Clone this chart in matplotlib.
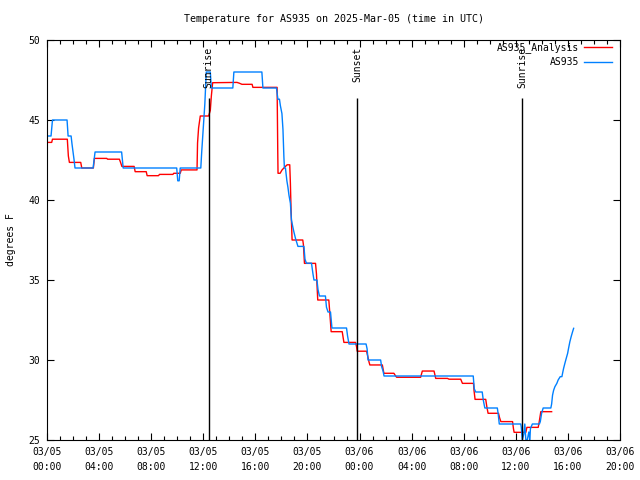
import matplotlib
matplotlib.use("Agg")
import matplotlib.pyplot as plt
import numpy as np

# hours since 03/05 00:00 UTC
obs_hours = [0.0, 0.31, 0.42, 1.54, 1.62, 1.85, 1.92, 2.08, 2.15, 3.54, 3.69, 5.73, 5.85,
             9.96, 10.04, 10.15, 10.23, 11.81, 11.88, 12.0, 12.12, 12.23, 12.54, 12.62,
             14.27, 14.35, 16.5, 16.58, 17.62, 17.73, 17.85, 17.92, 18.04, 18.12, 18.19,
             18.23, 18.31, 18.42, 18.5, 18.58, 18.69, 18.77, 18.88, 18.96, 19.08, 19.27,
             19.73, 19.81, 19.92, 20.31, 20.42, 20.5, 20.73, 20.81, 20.92, 21.38, 21.46,
             21.58, 21.77, 21.88, 23.0, 23.08, 23.19, 24.5, 24.58, 24.65, 25.62, 25.69,
             25.81, 25.88, 32.73, 32.81, 32.92, 33.42, 33.5, 33.62, 34.58, 34.65, 34.73,
             36.38, 36.42, 36.5, 36.62, 36.69, 36.77, 36.88, 37.0, 37.08, 37.12, 37.27,
             37.81, 37.88, 37.98, 38.1, 38.69, 38.75, 38.82, 38.9, 39.0, 39.15, 39.25,
             39.41, 39.54, 39.59, 39.67, 39.77, 39.87, 39.98, 40.05, 40.15, 40.25, 40.36,
             40.44]
obs_temps = [44.0, 44.0, 45.0, 45.0, 44.0, 44.0, 43.5, 42.5, 42.0, 42.0, 43.0, 43.0, 42.0,
             42.0, 41.2, 41.2, 42.0, 42.0, 43.0, 44.5, 46.0, 48.0, 48.0, 47.0,
             47.0, 48.0, 48.0, 47.0, 47.0, 46.3, 46.3, 45.9, 45.4, 44.4, 42.7,
             42.0, 42.0, 41.2, 40.8, 40.3, 39.8, 38.75, 38.3, 38.0, 37.6, 37.1,
             37.1, 36.3, 36.05, 36.05, 35.4, 35.0, 35.0, 34.4, 34.0, 34.0, 33.3,
             33.0, 33.0, 32.0, 32.0, 31.5, 31.0, 31.0, 30.7, 30.0, 30.0, 29.6,
             29.3, 29.0, 29.0, 28.2, 28.0, 28.0, 27.5, 27.0, 27.0, 26.6, 26.0,
             26.0, 25.8, 25.0, 25.4, 26.0, 25.0, 25.0, 25.5, 25.0, 25.7, 26.0,
             26.0, 26.15, 26.67, 27.0, 27.0, 27.25, 27.8, 28.1, 28.33, 28.54, 28.75,
             28.96, 28.96, 29.17, 29.48, 29.8, 30.1, 30.42, 30.73, 31.14, 31.46, 31.77,
             31.98]

ana_hours = [0.0, 0.36, 0.42, 1.56, 1.64, 1.72, 2.59, 2.67, 3.56, 3.64, 4.59, 4.65, 5.56,
             5.67, 5.75, 6.69, 6.77, 7.62, 7.69, 8.56, 8.64, 9.67, 9.73, 10.23, 10.31,
             11.52, 11.56, 11.64, 11.77, 12.41, 12.54, 12.62, 12.72, 14.59, 14.77, 14.97,
             15.75, 15.81, 17.67, 17.72, 17.74, 17.9, 18.05, 18.31, 18.44, 18.64, 18.69,
             18.74, 18.82, 19.64, 19.69, 19.77, 20.62, 20.69, 20.79, 21.64, 21.72, 21.82,
             22.67, 22.75, 22.8, 23.69, 23.77, 23.82, 24.54, 24.64, 24.72, 24.79, 25.75,
             25.87, 26.64, 26.77, 26.85, 28.69, 28.82, 29.72, 29.85, 30.75, 30.87, 31.77,
             31.9, 32.75, 32.79, 32.87, 33.69, 33.77, 33.87, 34.67, 34.75, 34.85, 35.75,
             35.82, 35.87, 36.77, 36.85, 37.72, 37.79, 37.92, 38.75]
ana_temps = [43.6, 43.6, 43.8, 43.8, 42.75, 42.35, 42.35, 42.0, 42.0, 42.6, 42.6, 42.55, 42.55,
             42.3, 42.1, 42.1, 41.77, 41.77, 41.52, 41.52, 41.6, 41.6, 41.67, 41.67, 41.88,
             41.88, 43.56, 44.5, 45.25, 45.25, 45.6, 46.5, 47.33, 47.35, 47.3, 47.23,
             47.23, 47.04, 47.04, 43.0, 41.67, 41.67, 41.88, 42.1, 42.2, 42.2, 41.04,
             39.4, 37.5, 37.5, 37.2, 36.04, 36.04, 35.4, 33.75, 33.75, 32.9, 31.77,
             31.77, 31.35, 31.1, 31.1, 30.83, 30.55, 30.55, 30.2, 29.9, 29.69, 29.69,
             29.17, 29.17, 29.0, 28.92, 28.92, 29.31, 29.31, 28.85, 28.85, 28.8, 28.8,
             28.54, 28.54, 28.1, 27.54, 27.54, 27.1, 26.67, 26.67, 26.4, 26.15, 26.15,
             25.7, 25.48, 25.48, 25.79, 25.79, 26.1, 26.77, 26.77]

sun_events = ["Sunrise", "Sunset", "Sunrise"]
sun_hours = [12.41, 23.82, 36.49]

tick_hours = list(range(0, 45, 4))
tick_labels = ["03/05\n00:00", "03/05\n04:00", "03/05\n08:00", "03/05\n12:00",
               "03/05\n16:00", "03/05\n20:00", "03/06\n00:00", "03/06\n04:00",
               "03/06\n08:00", "03/06\n12:00", "03/06\n16:00", "03/06\n20:00"]

plt.rcParams["font.family"] = ["DejaVu Sans Mono"]
plt.rcParams["font.size"] = 7

fig = plt.figure(figsize=(6.4, 4.8), dpi=100)
ax = fig.add_axes([47 / 640, 40 / 480, 573 / 640, 400 / 480])

ax.plot(ana_hours, ana_temps, color="#ff0000", lw=1, label="AS935_Analysis")
ax.plot(obs_hours, obs_temps, color="#0080ff", lw=1, label="AS935")

for name, h in zip(sun_events, sun_hours):
    ax.vlines(h, 25, 46.4, color="black", lw=1)
    ax.text(h, 49.55, name, rotation=90, ha="center", va="top", fontsize=7)

ax.set_xlim(0, 44)
ax.set_ylim(25, 50)
ax.set_xticks(tick_hours)
ax.set_xticklabels(tick_labels, linespacing=1.6)
ax.set_xticks(range(0, 45), minor=True)
ax.set_yticks([25, 30, 35, 40, 45, 50])
ax.tick_params(direction="in", top=True, right=True, length=5, width=0.8, pad=5)
ax.tick_params(which="minor", direction="in", top=True, length=3, width=0.8)
for s in ax.spines.values():
    s.set_linewidth(0.8)

ax.legend(loc="upper right", bbox_to_anchor=(612 / 640, 1 - 42 / 480),
          bbox_transform=fig.transFigure, frameon=False, markerfirst=False,
          borderpad=0, borderaxespad=0, handlelength=2.9, handletextpad=0.5,
          labelspacing=0.45, fontsize=7)

fig.text(333.5 / 640, 1 - 19 / 480, "Temperature for AS935 on 2025-Mar-05 (time in UTC)",
         ha="center", va="center", fontsize=7.2)
fig.text(11 / 640, 0.5, "degrees F", rotation=90, ha="center", va="center", fontsize=7)

fig.savefig("out.png", dpi=100)
